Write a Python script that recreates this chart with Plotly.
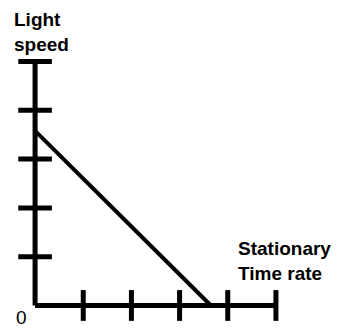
import plotly.graph_objects as go

# Data
x_ticks = [1, 2, 3, 4, 5]
y_ticks = [1, 2, 3, 4, 5]
axis_max = 5
line_x = [0, 3.65]
line_y = [3.58, 0]
y_label = "Light<br>speed"
x_label = "Stationary<br>Time rate"
origin_label = "0"

fig = go.Figure()

# axes
fig.add_trace(go.Scatter(x=[0, axis_max], y=[0, 0], mode="lines",
                         line=dict(color="black", width=5), hoverinfo="skip"))
fig.add_trace(go.Scatter(x=[0, 0], y=[0, axis_max], mode="lines",
                         line=dict(color="black", width=5), hoverinfo="skip"))
# ticks crossing axes
fig.add_trace(go.Scatter(x=x_ticks, y=[0] * len(x_ticks), mode="markers",
                         marker=dict(symbol="line-ns", size=22,
                                     line=dict(color="black", width=5)),
                         cliponaxis=False, hoverinfo="skip"))
fig.add_trace(go.Scatter(x=[0] * len(y_ticks), y=y_ticks, mode="markers",
                         marker=dict(symbol="line-ew", size=24,
                                     line=dict(color="black", width=5)),
                         cliponaxis=False, hoverinfo="skip"))
# the diagonal line
fig.add_trace(go.Scatter(x=line_x, y=line_y, mode="lines",
                         line=dict(color="black", width=4), hoverinfo="skip"))

font = dict(family="Liberation Sans, Arial, sans-serif", size=19, color="black")
fig.add_annotation(x=-0.47, y=1.125, yref="paper", text="<b>" + y_label + "</b>",
                   showarrow=False, xanchor="left", yanchor="top", align="left",
                   font=font)
fig.add_annotation(x=4.18, y=1.42, text="<b>" + x_label + "</b>", showarrow=False,
                   xanchor="left", yanchor="top", align="left", font=font)
fig.add_annotation(x=-0.28, y=-0.24, text=origin_label, showarrow=False,
                   xanchor="center", yanchor="middle", font=font)

fig.update_layout(
    width=340, height=330,
    margin=dict(l=11.4, r=39.9, t=42, b=5),
    paper_bgcolor="white", plot_bgcolor="white",
    showlegend=False,
    xaxis=dict(range=[-0.5, 5.5], visible=False, fixedrange=True),
    yaxis=dict(range=[-0.4, 5.4], visible=False, fixedrange=True),
)

fig.write_html("out.html", config={"displayModeBar": False},
               post_script="document.body.style.margin='0';")
